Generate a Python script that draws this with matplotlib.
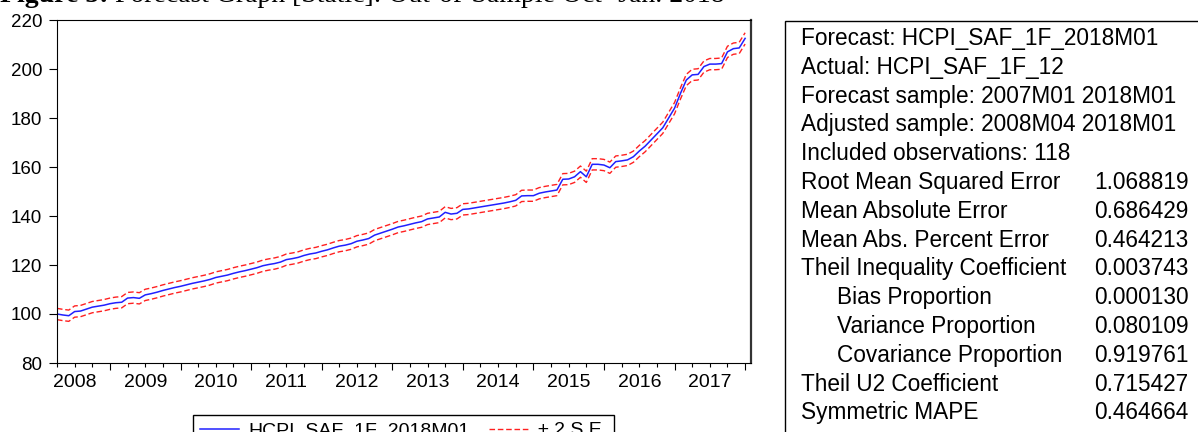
import numpy as np
import pandas as pd
import matplotlib
matplotlib.use("Agg")
import matplotlib.pyplot as plt
from matplotlib.patches import Rectangle
from matplotlib.text import Annotation
from matplotlib.ticker import FixedLocator, FuncFormatter

plt.rcParams["font.family"] = ["Liberation Sans", "DejaVu Sans"]

# forecast HCPI_SAF_1F_2018M01, 2008M04 .. 2018M01 (118 obs)
forecast = [
    # 2008 M04-M12
    100.0, 99.6, 99.3, 101.0, 101.2, 102.0, 102.8, 103.2, 103.6,
    # 2009
    104.2, 104.6, 104.8, 106.5, 106.7, 106.4, 107.8, 108.3, 108.9, 109.6, 110.2, 110.8,
    # 2010
    111.3, 111.9, 112.5, 113.0, 113.5, 114.1, 114.9, 115.4, 115.9, 116.6, 117.2, 117.7,
    # 2011
    118.3, 118.9, 119.7, 120.2, 120.6, 121.2, 122.2, 122.6, 123.1, 123.9, 124.5, 124.9,
    # 2012
    125.6, 126.2, 127.0, 127.7, 128.1, 128.7, 129.7, 130.2, 130.8, 132.2, 133.0, 133.8,
    # 2013
    134.6, 135.5, 136.0, 136.6, 137.2, 137.7, 138.8, 139.2, 139.6, 141.5, 140.8, 141.1,
    # 2014
    142.7, 142.9, 143.3, 143.7, 144.1, 144.5, 144.9, 145.3, 145.8, 146.4, 148.2, 148.3,
    # 2015
    148.3, 149.3, 149.8, 150.2, 150.6, 155.0, 155.1, 156.0, 158.1, 156.0, 161.1, 161.1,
    # 2016
    160.8, 159.7, 162.2, 162.5, 162.9, 164.2, 166.5, 168.5, 171.0, 173.5, 176.0, 180.0,
    # 2017
    184.0, 190.0, 195.5, 197.6, 197.8, 201.0, 202.0, 202.0, 202.2, 207.0, 208.3, 208.6,
    # 2018 M01
    212.5,
]
two_se = 2.3  # half width of the +/- 2 S.E. band

years = list(range(2008, 2018))
yticks = [80, 100, 120, 140, 160, 180, 200, 220]

stats_labels = [
    "Forecast: HCPI_SAF_1F_2018M01",
    "Actual: HCPI_SAF_1F_12",
    "Forecast sample: 2007M01 2018M01",
    "Adjusted sample: 2008M04 2018M01",
    "Included observations: 118",
    "Root Mean Squared Error",
    "Mean Absolute Error",
    "Mean Abs. Percent Error",
    "Theil Inequality Coefficient",
    "Bias Proportion",
    "Variance Proportion",
    "Covariance Proportion",
    "Theil U2 Coefficient",
    "Symmetric MAPE",
]
stats_values = ["", "", "", "", "", "1.068819", "0.686429", "0.464213", "0.003743",
                "0.000130", "0.080109", "0.919761", "0.715427", "0.464664"]
indented = ["Bias Proportion", "Variance Proportion", "Covariance Proportion"]

W, H = 1198, 432


def fx(px):
    return px / W


def fy(py):
    return 1 - py / H


months = pd.period_range("2008-04", "2018-01", freq="M")
t = np.array([p.year + (p.month - 1) / 12 for p in months])
f = np.array(forecast)

fig = plt.figure(figsize=(W / 100, H / 100), dpi=100)
ax = fig.add_axes([fx(57), fy(363), fx(751) - fx(57), fy(20) - fy(363)])

l1, = ax.plot(t, f, color="#2020ff", lw=1.1)
l2, = ax.plot(t, f + two_se, color="#ff2020", lw=1.0, dashes=(4, 2))
ax.plot(t, f - two_se, color="#ff2020", lw=1.0, dashes=(4, 2))

ax.set_xlim(2008.25, 2018 + 1 / 12)
ax.set_ylim(80, 220)
ax.set_yticks(yticks)
ax.tick_params(axis="y", direction="out", length=5.8, width=0.8, pad=5,
               labelsize=13.5, colors="black")

# long ticks at year boundaries, short ticks at quarters, labels mid-year
ax.xaxis.set_major_locator(FixedLocator([y + 1 for y in years]))
ax.xaxis.set_major_formatter(FuncFormatter(lambda v, p: ""))
quarters = [y + q / 4 for y in range(2008, 2018) for q in (1, 2, 3)]
ax.xaxis.set_minor_locator(FixedLocator(quarters))
label_pos = {y + 0.5: str(y) for y in years}
ax.xaxis.set_minor_formatter(FuncFormatter(lambda v, p: label_pos.get(round(v, 3), "")))
ax.tick_params(axis="x", which="major", direction="out", length=5, width=0.8)
ax.tick_params(axis="x", which="minor", direction="out", length=2.9, width=0.8,
               pad=5.2, labelsize=14)

for side in ["left", "bottom", "top"]:
    ax.spines[side].set_linewidth(0.8)
ax.spines["right"].set_linewidth(1.6)
ax.spines["right"].set_color("#333333")

leg = fig.legend(
    handles=[l1, l2], labels=["HCPI_SAF_1F_2018M01", "\u00b1 2 S.E."],
    loc="upper left", bbox_to_anchor=(fx(193), fy(415)), ncol=2,
    fontsize=14, handlelength=2.0, handletextpad=0.5, columnspacing=1.0,
    borderpad=0.35, borderaxespad=0, fancybox=False, edgecolor="black",
    framealpha=1,
)
leg.get_frame().set_linewidth(1.0)

# title, cut off at the top edge of the image
t1 = fig.text(0, fy(8), "Figure 5:", fontsize=20, fontweight="bold",
              family="Liberation Serif", va="bottom", ha="left")
fig.add_artist(Annotation(" Forecast Graph [Static]: Out-of-Sample Oct- Jan. 2018",
                          xy=(1, 0), xycoords=t1, va="bottom", ha="left",
                          fontsize=20, family="Liberation Serif"))

# forecast evaluation table
fig.add_artist(Rectangle((fx(785), fy(445)), fx(1220) - fx(785), fy(21) - fy(445),
                         transform=fig.transFigure, fill=False, edgecolor="black",
                         lw=1.0, clip_on=False))
for i, (lab, val) in enumerate(zip(stats_labels, stats_values)):
    yb = 45 + 28.8 * i
    x0 = 837 if lab in indented else 801
    fig.text(fx(x0), fy(yb), lab, fontsize=16.3, va="baseline", ha="left")
    if val:
        fig.text(fx(1094), fy(yb), val, fontsize=16.3, va="baseline", ha="left")

fig.savefig("out.png", dpi=100)
